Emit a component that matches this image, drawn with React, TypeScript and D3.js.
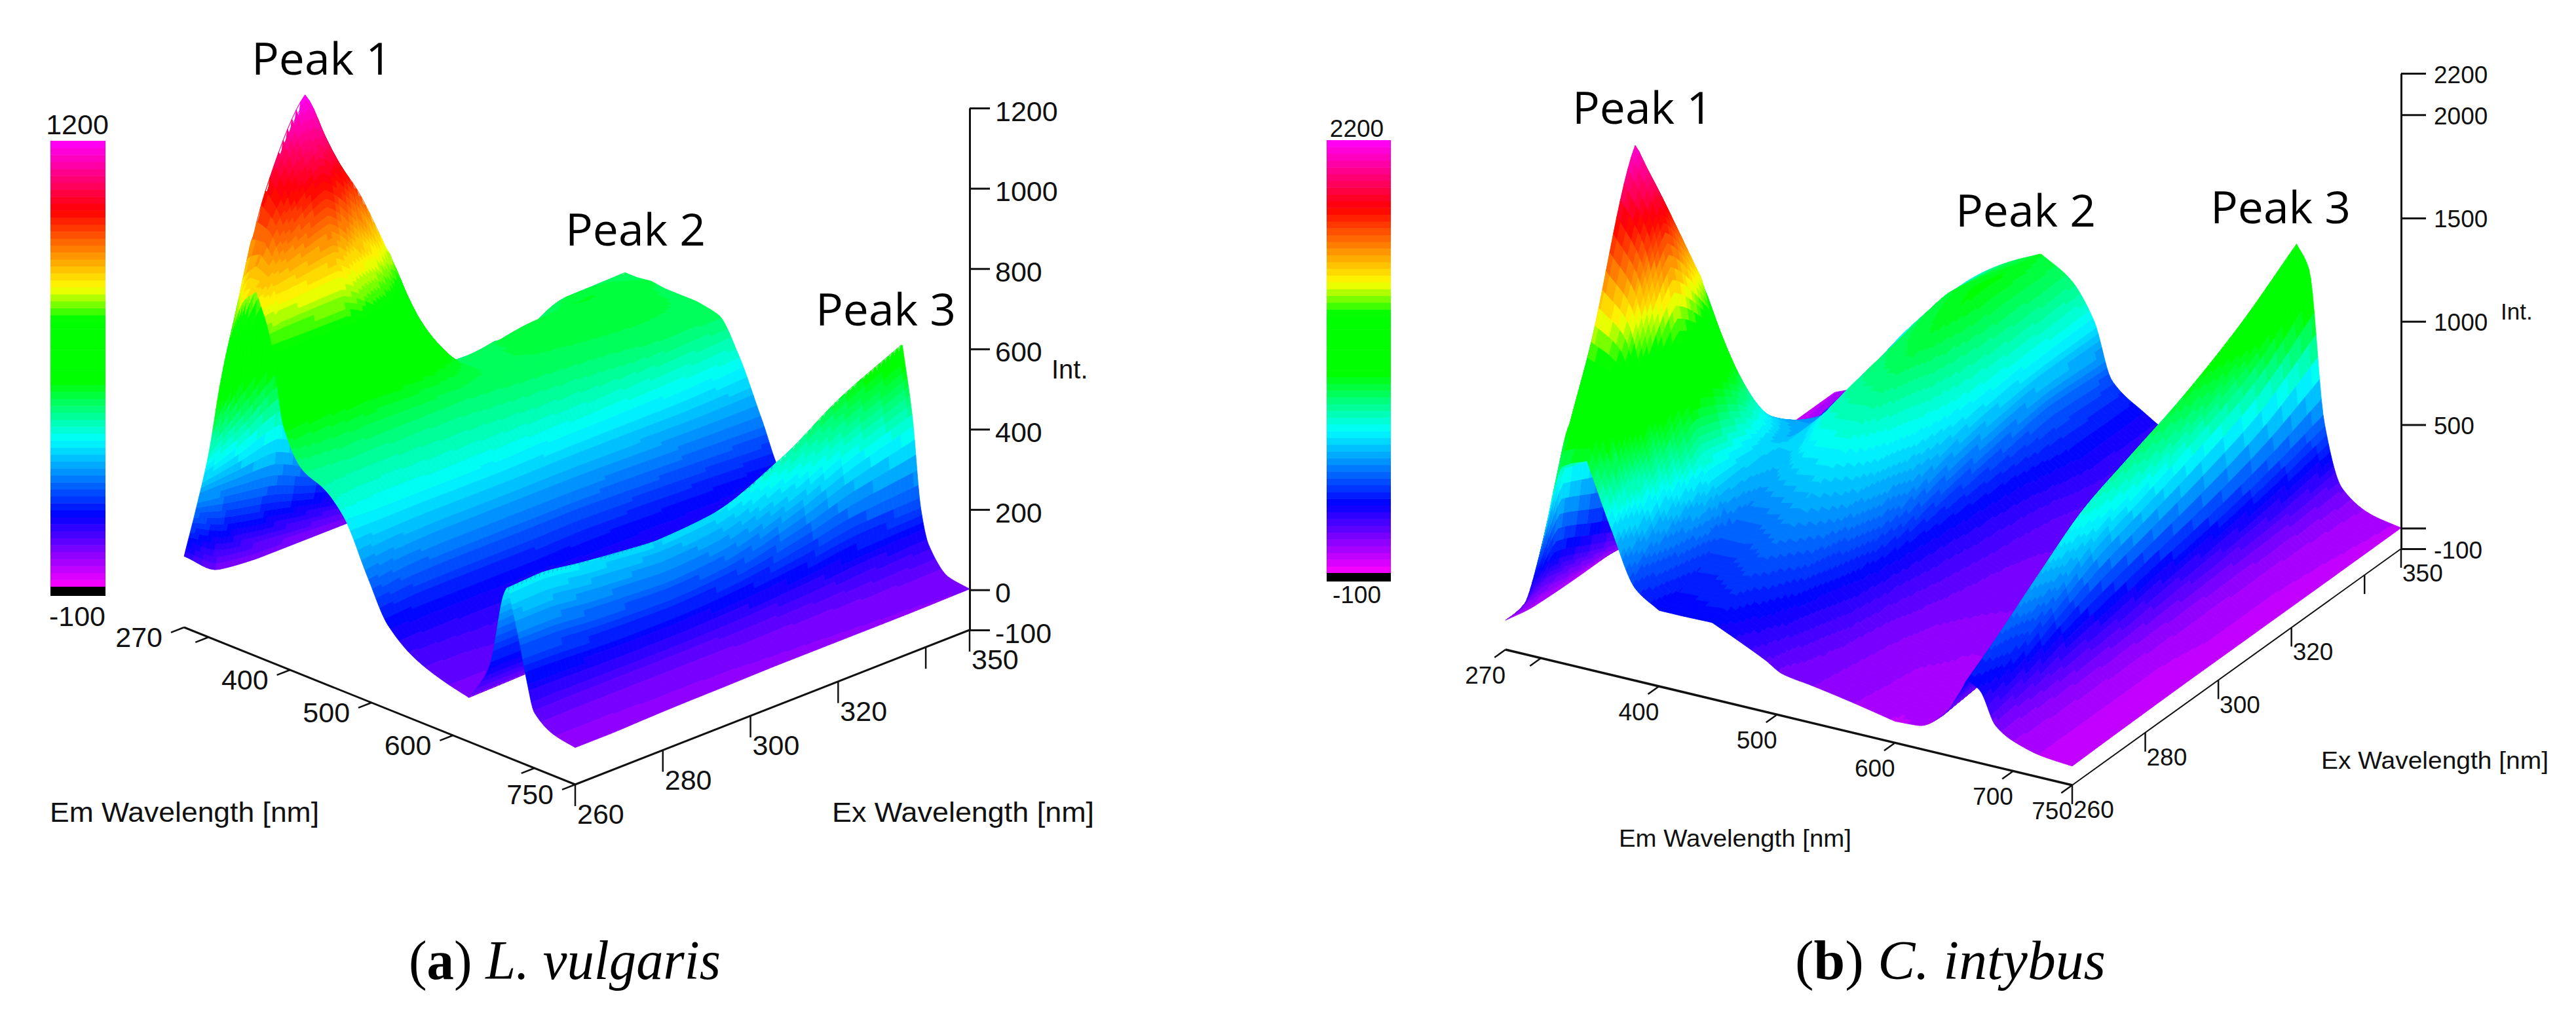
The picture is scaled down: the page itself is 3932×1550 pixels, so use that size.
import React, { useEffect, useRef } from 'react';
import * as d3 from 'd3';

// colour bar of the instrument: stops as a fraction of the intensity range
const colorStops = [0, 0.161, 0.33, 0.461, 0.6, 0.67, 0.843, 1];
const colorValues = ['#ff00ff', '#0000ff', '#00ffff', '#00ff00', '#00ff00', '#ffff00', '#ff0000', '#ff00ff'];

// Panel a: L. vulgaris, rows follow aEm, columns follow aEx
const aEm = [270, 285, 300, 315, 327, 342, 359, 377, 392, 416, 442, 466, 495, 520, 555, 590, 620, 645, 662, 667, 680, 690, 700, 725, 750];
const aEx = [260, 268, 277, 285, 294, 306, 323, 336, 350];
const aInt = [
    [77, 10, 0, 0, 0, 0, 0, 0, 0],
    [210, 190, 170, 140, 110, 80, 60, 50, 50],
    [355, 420, 500, 420, 320, 220, 160, 160, 170],
    [550, 800, 950, 780, 560, 330, 280, 320, 340],
    [670, 1000, 1200, 960, 730, 380, 370, 440, 445],
    [770, 960, 1090, 960, 730, 420, 410, 460, 445],
    [810, 850, 880, 780, 640, 430, 465, 470, 450],
    [700, 700, 700, 650, 570, 440, 460, 465, 445],
    [500, 510, 530, 520, 500, 445, 455, 460, 445],
    [410, 425, 430, 430, 430, 435, 445, 450, 445],
    [385, 375, 375, 380, 385, 395, 410, 430, 433],
    [335, 330, 330, 330, 330, 335, 340, 345, 356],
    [210, 225, 230, 230, 230, 230, 225, 220, 216],
    [110, 115, 115, 115, 115, 120, 115, 110, 100],
    [52, 55, 60, 60, 60, 65, 70, 70, 70],
    [25, 25, 30, 35, 40, 45, 55, 60, 65],
    [10, 12, 15, 20, 25, 30, 45, 55, 60],
    [110, 110, 110, 110, 110, 120, 150, 180, 220],
    [300, 305, 295, 285, 280, 290, 350, 440, 510],
    [325, 330, 315, 305, 295, 305, 385, 475, 548],
    [215, 215, 205, 200, 195, 205, 260, 320, 370],
    [115, 112, 108, 106, 106, 112, 130, 150, 155],
    [38, 40, 40, 40, 40, 42, 50, 60, 70],
    [2, 2, 3, 3, 3, 3, 5, 8, 10],
    [-8, -8, -5, -3, -2, 0, 0, 0, 2],
];

// Panel b: C. intybus
const bEm = [270, 285, 300, 318, 339, 360, 380, 400, 420, 445, 470, 490, 505, 530, 560, 600, 620, 640, 655, 661, 672, 685, 700, 725, 750];
const bEx = [260, 268, 280, 292, 304, 318, 334, 350];
const bInt = [
    [42, 10, 0, 0, 0, 0, 0, 0],
    [130, 250, 150, 60, 10, 5, 10, 40],
    [420, 900, 900, 500, 100, 30, 50, 120],
    [850, 1350, 2150, 1300, 350, 120, 200, 260],
    [908, 1280, 1880, 1340, 600, 300, 350, 400],
    [600, 850, 1150, 960, 590, 420, 500, 560],
    [345, 450, 650, 620, 530, 500, 650, 680],
    [267, 310, 430, 540, 640, 680, 780, 770],
    [267, 320, 430, 600, 760, 840, 900, 840],
    [270, 350, 470, 620, 780, 900, 960, 910],
    [205, 280, 410, 560, 680, 760, 800, 820],
    [150, 210, 290, 420, 540, 610, 640, 646],
    [102, 150, 220, 270, 310, 350, 400, 380],
    [80, 90, 110, 150, 180, 210, 270, 270],
    [50, 55, 65, 90, 110, 130, 170, 180],
    [4, 20, 40, 70, 90, 110, 120, 150],
    [11, 20, 40, 60, 80, 100, 110, 140],
    [85, 100, 120, 130, 140, 150, 170, 200],
    [220, 300, 440, 580, 680, 780, 920, 1100],
    [290, 395, 565, 720, 810, 910, 1060, 1258],
    [250, 320, 450, 580, 660, 760, 900, 1145],
    [100, 120, 170, 200, 240, 280, 340, 420],
    [45, 50, 60, 70, 80, 90, 100, 125],
    [5, 5, 5, 5, 10, 10, 15, 30],
    [-8, -5, -2, 0, 0, 0, 0, 1],
];

const exTicks = [260, 280, 300, 320, 340, 350];
const exLabels = [260, 280, 300, 320, 350];
const emTicks = [270, 300, 400, 500, 600, 700, 750];
const aEmLabels = [270, 400, 500, 600, 750];
const bEmLabels = [270, 400, 500, 600, 700, 750];
const aIntTicks = [-100, 0, 200, 400, 600, 800, 1000, 1200];
const bIntTicks = [-100, 0, 500, 1000, 1500, 2000, 2200];
const bIntLabels = [-100, 500, 1000, 1500, 2000, 2200];

const panels = [
    {
        em: aEm, ex: aEx, values: aInt, max: 1200,
        corner: [878, 1198], emEnd: [281, 958], exEnd: [1480, 962], zTop: 165,
        emLabels: aEmLabels, intTicks: aIntTicks, intLabels: aIntTicks,
        font: 43, tick: 31, intX: 1519, intDy: 19, emWidth: 3, exWidth: 3,
        bar: { x: 77, w: 84, top: 215, bottom: 896, black: 910, cx: 118, topBase: 205, lowBase: 956 },
        emLabel: { dx: -33, dy: 30 }, exLabel: { dx: 3, dy: 60 }, exTick: 33,
        emTitle: { x: 76, y: 1255, w: 411 }, exTitle: { x: 1270, y: 1255, w: 400 },
        intTitle: { x: 1605, y: 578, size: 40 },
        peaks: [[384, 114], [863, 375], [1245, 497]],
    },
    {
        em: bEm, ex: bEx, values: bInt, max: 2200,
        corner: [3163, 1199], emEnd: [2298, 992], exEnd: [3665, 838], zTop: 112,
        emLabels: bEmLabels, intTicks: bIntTicks, intLabels: bIntLabels,
        font: 37, tick: 38, intX: 3715, intDy: 14, emWidth: 3.5, exWidth: 2,
        bar: { x: 2025, w: 98, top: 214, bottom: 875, black: 888, cx: 2071, topBase: 209, lowBase: 921 },
        emLabel: { dx: 0, dy: 52 }, exLabel: { dx: 2, dy: 50 }, exTick: 29,
        emTitle: { x: 2471, y: 1293, w: 355 }, exTitle: { x: 3543, y: 1174, w: 347 },
        intTitle: { x: 3817, y: 488, size: 35 },
        peaks: [[2400, 189], [2985, 346], [3374, 341]],
    },
];

const sans = '"Liberation Sans", Arial, sans-serif';

// monotone cubic through the table values, only to round off the drawn surface.
// sharp says how much of the slope is kept at a turning point, so peaks stay pointed
const monotone = (xs, ys, sharp) => {
    const n = xs.length;
    const d = d3.range(n - 1).map((i) => (ys[i + 1] - ys[i]) / (xs[i + 1] - xs[i]));
    const turning = (i) => i > 0 && i < n - 1 && d[i - 1] * d[i] <= 0;
    const slope = (i) => {
        if (i === 0) return d[0];
        if (i === n - 1) return d[n - 2];
        return (2 * d[i - 1] * d[i]) / (d[i - 1] + d[i]);
    };
    return (x) => {
        const i = Math.min(d3.bisectRight(xs, x) - 1, n - 2);
        const h = xs[i + 1] - xs[i];
        const s = (x - xs[i]) / h;
        const m0 = turning(i) ? d[i] * sharp : slope(i);
        const m1 = turning(i + 1) ? d[i] * sharp : slope(i + 1);
        return ys[i] * (1 + 2 * s) * (1 - s) * (1 - s)
            + m0 * h * s * (1 - s) * (1 - s)
            + ys[i + 1] * s * s * (3 - 2 * s)
            + m1 * h * s * s * (s - 1);
    };
};

const drawPanel = (svg, p) => {
    const root = svg.append('g');
    const zMin = -100;
    // projection of the oblique view, three linear scales added together
    const emX = d3.scaleLinear().domain([270, 750]).range([p.emEnd[0] - p.corner[0], 0]);
    const emY = d3.scaleLinear().domain([270, 750]).range([p.emEnd[1] - p.corner[1], 0]);
    const exX = d3.scaleLinear().domain([260, 350]).range([0, p.exEnd[0] - p.corner[0]]);
    const exY = d3.scaleLinear().domain([260, 350]).range([0, p.exEnd[1] - p.corner[1]]);
    const zY = d3.scaleLinear().domain([zMin, p.max]).range([0, p.zTop - p.exEnd[1]]);
    const project = (em, ex, z) => [
        p.corner[0] + emX(em) + exX(ex),
        p.corner[1] + emY(em) + exY(ex) + zY(z),
    ];

    const t = d3.scaleLinear().domain(colorStops).range(colorValues).interpolate(d3.interpolateRgb);
    const level = d3.scaleQuantize().domain([0, 1]).range(d3.range(64).map((i) => t((i + 0.5) / 64)));
    const frac = d3.scaleLinear().domain([zMin, p.max]).range([0, 1]).clamp(true);

    // far to near: high Ex first, low Em first
    const fineEm = d3.range(270, 750.01, 1.5);
    const fineEx = d3.range(350, 259.99, -1);
    const rows = p.values.map((row) => fineEx.map(monotone(p.ex, row, 0.5)));
    const grid = fineEx.map((_, j) => fineEm.map(monotone(p.em, rows.map((r) => r[j]), 1)));

    const line = d3.line();
    const surface = root.append('g');
    // runs of one colour inside a strip share a path, the drawing order stays the same
    fineEx.slice(0, -1).forEach((ex1, j) => {
        const ex0 = fineEx[j + 1];
        let color = null;
        let d = '';
        const flush = () => {
            if (d) {
                surface.append('path').attr('d', d).attr('fill', color)
                    .attr('stroke', color).attr('stroke-width', 0.8);
            }
            d = '';
        };
        fineEm.slice(0, -1).forEach((em0, i) => {
            const em1 = fineEm[i + 1];
            const zs = [grid[j + 1][i], grid[j + 1][i + 1], grid[j][i + 1], grid[j][i]];
            const c = level(frac(d3.mean(zs)));
            if (c !== color) {
                flush();
                color = c;
            }
            d += `${line([
                project(em0, ex0, zs[0]),
                project(em1, ex0, zs[1]),
                project(em1, ex1, zs[2]),
                project(em0, ex1, zs[3]),
            ])}Z`;
        });
        flush();
    });

    // floor axes
    const axes = root.append('g').attr('stroke', '#111').attr('fill', 'none');
    axes.append('path').attr('stroke-width', p.emWidth)
        .attr('d', line([project(270, 260, zMin), project(750, 260, zMin)]));
    axes.append('path').attr('stroke-width', p.exWidth)
        .attr('d', line([project(750, 260, zMin), project(750, 350, zMin)]));
    emTicks.forEach((em) => {
        axes.append('path').attr('stroke-width', 2.5)
            .attr('d', line([project(em, 260, zMin), project(em, 257, zMin)]));
    });
    exTicks.forEach((ex) => {
        const [x, y] = project(750, ex, zMin);
        axes.append('path').attr('stroke-width', 2.5).attr('d', line([[x, y], [x, y + p.exTick]]));
    });

    const text = root.append('g').attr('font-family', sans).attr('fill', '#111').attr('font-size', p.font);
    p.emLabels.forEach((em) => {
        const [x, y] = project(em, 260, zMin);
        text.append('text').attr('x', x + p.emLabel.dx).attr('y', y + p.emLabel.dy)
            .attr('text-anchor', 'end').text(em);
    });
    exLabels.forEach((ex) => {
        const [x, y] = project(750, ex, zMin);
        text.append('text').attr('x', x + p.exLabel.dx).attr('y', y + p.exLabel.dy).text(ex);
    });
    [[p.emTitle, 'Em Wavelength [nm]'], [p.exTitle, 'Ex Wavelength [nm]']].forEach(([o, s]) => {
        text.append('text').attr('x', o.x).attr('y', o.y)
            .attr('textLength', o.w).attr('lengthAdjust', 'spacingAndGlyphs').text(s);
    });

    // intensity axis
    const z = d3.scaleLinear().domain([zMin, p.max]).range([p.exEnd[1], p.zTop]);
    const zAxis = root.append('g')
        .attr('transform', `translate(${p.exEnd[0]},0)`)
        .call(d3.axisRight(z)
            .tickValues(p.intTicks)
            .tickSize(p.tick)
            .tickSizeOuter(0)
            .tickPadding(p.intX - p.exEnd[0] - p.tick)
            .tickFormat((d) => (p.intLabels.includes(d) ? String(d) : '')));
    zAxis.selectAll('path,line').attr('stroke', '#111').attr('stroke-width', 3);
    zAxis.selectAll('text')
        .attr('font-family', sans).attr('font-size', p.font).attr('fill', '#111')
        .attr('dy', null).attr('y', p.intDy);
    text.append('text').attr('x', p.intTitle.x).attr('y', p.intTitle.y)
        .attr('font-size', p.intTitle.size).text('Int.');

    // colour bar
    const { bar } = p;
    const barY = d3.scaleBand().domain(d3.range(64)).range([bar.bottom, bar.top]);
    root.append('g').selectAll('rect').data(d3.range(64)).enter()
        .append('rect')
        .attr('x', bar.x).attr('width', bar.w)
        .attr('y', (d) => barY(d)).attr('height', barY.bandwidth() + 0.5)
        .attr('fill', (d) => level((d + 0.5) / 64));
    root.append('rect').attr('x', bar.x).attr('width', bar.w)
        .attr('y', bar.bottom).attr('height', bar.black - bar.bottom).attr('fill', '#000');
    text.append('text').attr('x', bar.cx).attr('y', bar.topBase).attr('text-anchor', 'middle').text(p.max);
    text.append('text').attr('x', bar.cx).attr('y', bar.lowBase).attr('text-anchor', 'middle').text('-100');

    // peak labels
    p.peaks.forEach(([x, y], i) => {
        root.append('text').attr('x', x).attr('y', y)
            .attr('font-family', '"Open Sans", sans-serif').attr('font-size', 68).attr('fill', '#000')
            .attr('textLength', 214).attr('lengthAdjust', 'spacingAndGlyphs')
            .text(`Peak ${i + 1}`);
    });
};

const App = () => {
    const ref = useRef(null);
    useEffect(() => {
        const svg = d3.select(ref.current);
        svg.selectAll('*').remove();
        panels.forEach((p) => drawPanel(svg, p));
        // captions
        [['a', 'L. vulgaris', 624, 476], ['b', 'C. intybus', 2740, 474]].forEach(([k, name, x, w]) => {
            const c = svg.append('text').attr('x', x).attr('y', 1495)
                .attr('font-family', '"Liberation Serif", serif').attr('font-size', 84).attr('fill', '#000')
                .attr('textLength', w).attr('lengthAdjust', 'spacingAndGlyphs');
            c.append('tspan').text('(');
            c.append('tspan').attr('font-weight', 'bold').text(k);
            c.append('tspan').text(') ');
            c.append('tspan').attr('font-style', 'italic').text(name);
        });
    }, []);

    return (
        <svg
            ref={ref}
            width={3932}
            height={1550}
            viewBox="0 0 3932 1550"
            style={{ position: 'absolute', left: 0, top: 0, background: '#fff' }}
        />
    );
};

export default App;
